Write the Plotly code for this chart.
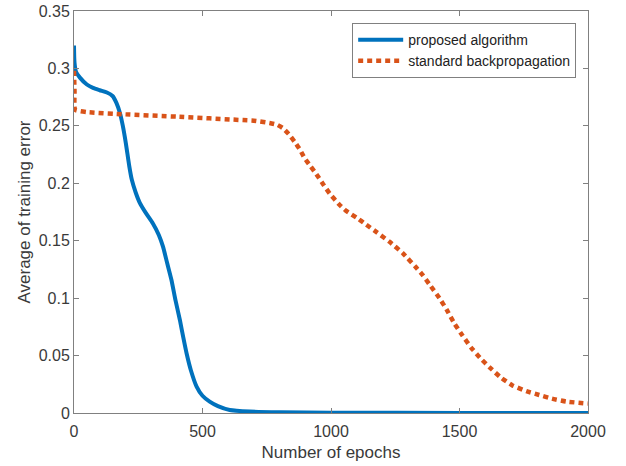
import plotly.graph_objects as go

# ---- data ----
proposed_epochs = [0, 2, 8, 23, 50, 74, 100, 128, 150, 165, 179, 190, 198, 205, 215, 225,
                   240, 256, 280, 307, 330, 346, 362, 379, 395, 412, 425, 438, 455, 477,
                   500, 528, 560, 606, 684, 800, 1000, 1500, 2000]
proposed_error = [0.320, 0.305, 0.297, 0.292, 0.286, 0.283, 0.281, 0.279, 0.276, 0.270,
                  0.261, 0.250, 0.240, 0.230, 0.215, 0.203, 0.192, 0.183, 0.174, 0.165,
                  0.155, 0.145, 0.131, 0.116, 0.098, 0.081, 0.066, 0.052, 0.037, 0.023,
                  0.015, 0.0099, 0.006, 0.0026, 0.0012, 0.0006, 0.0003, 0.0001, 0.0]

standard_epochs = [0, 2, 4, 50, 200, 400, 657, 700, 761, 790, 813, 835, 859, 880, 897, 920,
                   943, 970, 995, 1030, 1059, 1100, 1137, 1180, 1228, 1280, 1330, 1357,
                   1383, 1422, 1450, 1480, 1510, 1545, 1580, 1616, 1660, 1706, 1760, 1810,
                   1860, 1914, 2000]
standard_error = [0.298, 0.280, 0.264, 0.262, 0.260, 0.258, 0.255, 0.2545, 0.2525, 0.251,
                  0.248, 0.243, 0.236, 0.229, 0.222, 0.215, 0.208, 0.199, 0.191, 0.182,
                  0.176, 0.170, 0.164, 0.157, 0.149, 0.139, 0.127, 0.120, 0.112, 0.100,
                  0.090, 0.078, 0.068, 0.057, 0.048, 0.040, 0.031, 0.024, 0.019, 0.0157,
                  0.0125, 0.0100, 0.0082]

x_ticks = [0, 500, 1000, 1500, 2000]
x_ticktext = ["0", "500", "1000", "1500", "2000"]
y_ticks = [0, 0.05, 0.1, 0.15, 0.2, 0.25, 0.3, 0.35]
y_ticktext = ["0", "0.05", "0.1", "0.15", "0.2", "0.25", "0.3", "0.35"]

series_names = ["proposed algorithm", "standard backpropagation"]

FONT = "Liberation Sans, Arial, sans-serif"

fig = go.Figure()
fig.add_trace(go.Scatter(x=proposed_epochs, y=proposed_error, mode="lines",
                         name=series_names[0],
                         line=dict(color="#0072BD", width=4, shape="spline", smoothing=0.6)))
fig.add_trace(go.Scatter(x=standard_epochs, y=standard_error, mode="lines",
                         name=series_names[1],
                         line=dict(color="#D95319", width=4.5, dash="5px,4px",
                                   shape="spline", smoothing=0.4)))

axis_common = dict(
    showline=True, linecolor="#808080", linewidth=1, mirror="ticks",
    ticks="inside", ticklen=5, tickcolor="#808080", tickwidth=1,
    showgrid=False, zeroline=False, automargin=False,
    tickfont=dict(family=FONT, size=16, color="#3a3a3a"),
)

fig.update_xaxes(range=[0, 2000], tickvals=x_ticks, ticktext=x_ticktext,
                 ticklabelstandoff=4,
                 title=dict(text="Number of epochs", standoff=6,
                            font=dict(family=FONT, size=17, color="#3a3a3a")),
                 **axis_common)
fig.update_yaxes(range=[0, 0.35], tickvals=y_ticks, ticktext=y_ticktext,
                 title=dict(text="Average of training error", standoff=3,
                            font=dict(family=FONT, size=17, color="#3a3a3a")),
                 **axis_common)

fig.update_layout(
    width=626, height=466,
    margin=dict(l=74, r=38, t=11, b=53),
    paper_bgcolor="white", plot_bgcolor="white",
    showlegend=True,
    legend=dict(x=0.977, y=0.970, xanchor="right", yanchor="top",
                bgcolor="white", bordercolor="#808080", borderwidth=1,
                itemwidth=45,
                font=dict(family=FONT, size=14, color="#222222"),
                tracegroupgap=0),
)

fig.write_html("out.html")
